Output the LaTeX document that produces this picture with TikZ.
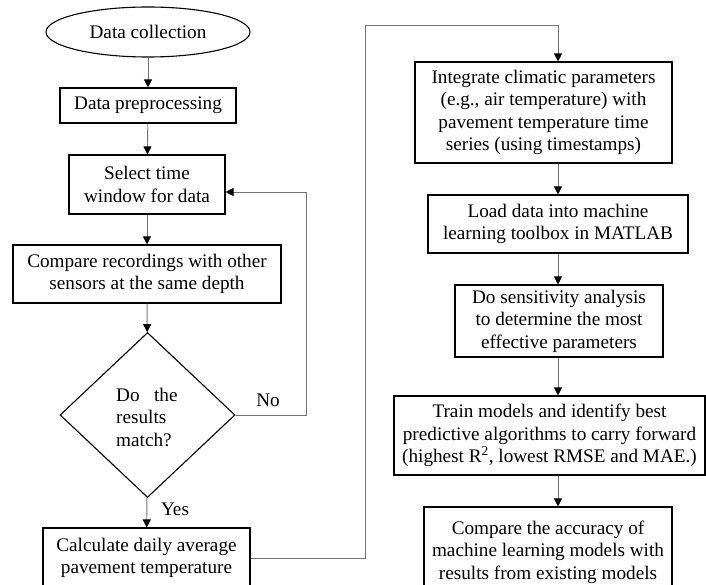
\documentclass[tikz,border=0pt]{standalone}
\usepackage{fontspec}
\setmainfont{Liberation Serif}
\usetikzlibrary{shapes.geometric,arrows.meta}
\begin{document}
\begin{tikzpicture}[x=1pt,y=-1pt,
  txt/.style={font=\fontsize{19.2}{22.5}\selectfont, align=center, inner sep=0pt},
  stepbox/.style={txt, draw=black, line width=1.1pt},
  link/.style={draw=black!55, line width=0.9pt},
  arr/.style={link, -{Triangle[length=8pt,width=8pt,color=black]}}]
\useasboundingbox (0,0) rectangle (706,585);

% left column
\node[txt, draw=black, line width=1.1pt, ellipse, minimum width=204pt, minimum height=50pt] (ell) at (148,32) {Data collection};
\node[stepbox, minimum width=176pt, minimum height=35pt] (prep) at (148,105.5) {Data preprocessing};
\node[stepbox, minimum width=156pt, minimum height=59pt] (sel) at (147,184.5) {Select time\\window for data};
\node[stepbox, minimum width=268pt, minimum height=58pt] (cmp) at (147,274) {Compare recordings with other\\sensors at the same depth};
\node[draw=black, line width=1.1pt, diamond, inner sep=0pt, minimum width=175pt, minimum height=165pt] (dia) at (147.5,415) {};
\node[txt, align=left, anchor=west] (diatext) at (116,417) {Do\hspace{0.75em}the\\results\\match?};
\node[stepbox, minimum width=207pt, minimum height=60pt] (calc) at (146.5,558) {Calculate daily average\\pavement temperature};

% right column
\node[stepbox, minimum width=257pt, minimum height=101pt] (int) at (543.5,112.5) {Integrate climatic parameters\\(e.g., air temperature) with\\pavement temperature time\\series (using timestamps)};
\node[stepbox, minimum width=260pt, minimum height=58pt] (load) at (558,224) {Load data into machine\\learning toolbox in MATLAB};
\node[stepbox, minimum width=208pt, minimum height=72pt] (sens) at (559,321) {Do sensitivity analysis\\to determine the most\\effective parameters};
\node[stepbox, minimum width=311pt, minimum height=79pt] (train) at (549.5,435.5) {Train models and identify best\\predictive algorithms to carry forward\\(highest R\textsuperscript{2}, lowest RMSE and MAE.)};
\node[stepbox, minimum width=248pt, minimum height=90pt] (acc) at (548,552) {Compare the accuracy of\\machine learning models with\\results from existing models};

% connectors
\draw[arr] (ell) -- (prep);
\draw[arr] (prep) -- (sel);
\draw[arr] (sel) -- (cmp);
\draw[arr] (cmp) -- (dia);
\draw[arr] (dia) -- (calc);
\node[txt] (yes) at (175,509) {Yes};

\coordinate (noturn) at (306,192);
\draw[arr] (dia.east) -| (noturn) -- (sel.east |- noturn);
\node[txt] (no) at (268,400) {No};

\coordinate (upx) at (365,25);
\coordinate (ax) at (558,25);
\draw[arr] (calc.east) -| (upx) -- (ax) -- (int.north -| ax);
\draw[arr] (int.south -| ax) -- (load.north -| ax);
\draw[arr] (load.south -| ax) -- (sens.north -| ax);
\draw[arr] (sens.south -| ax) -- (train.north -| ax);
\draw[arr] (train.south -| ax) -- (acc.north -| ax);
\end{tikzpicture}
\end{document}
